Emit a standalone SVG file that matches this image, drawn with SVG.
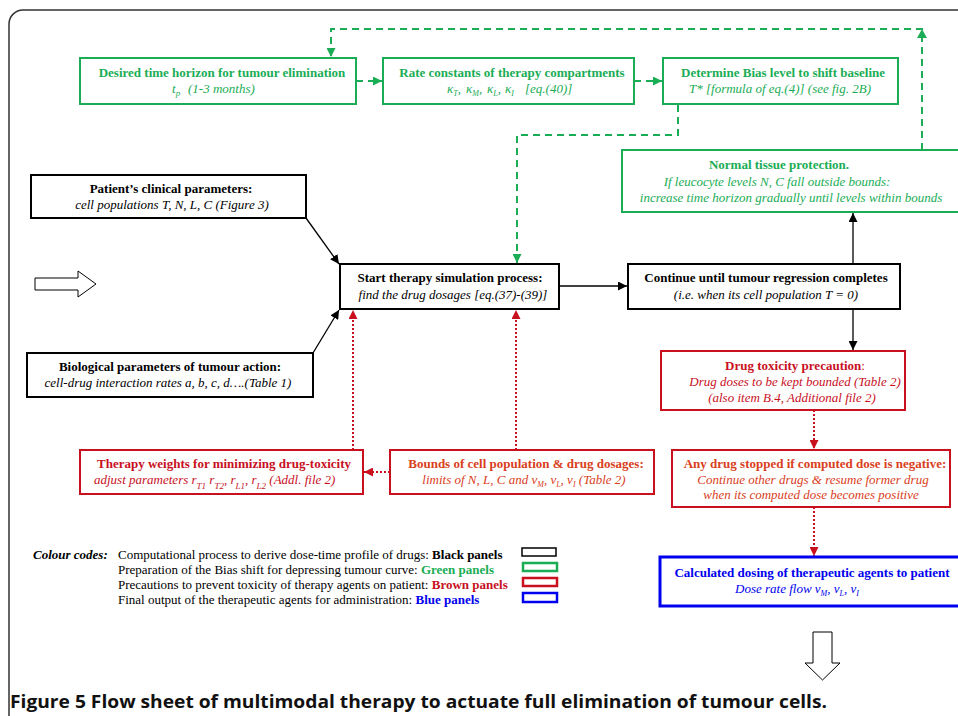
<svg xmlns="http://www.w3.org/2000/svg" width="958" height="716" viewBox="0 0 958 716">
<defs>
<style>
.bx{fill:#fff;stroke-width:2}
.k{stroke:#000}
.g{stroke:#1aad55}
.r{stroke:#c8101e}
.b{stroke:#0000ee;stroke-width:3}
.s{font-family:"Liberation Serif","Times New Roman",serif;font-size:13px}
.t{font-weight:bold;text-anchor:middle}
.i{font-style:italic;text-anchor:middle}
.gt{fill:#1aad55}
.rt{fill:#c8101e}
.ot{fill:#d9401c}
.bt{fill:#0000ee}
.lg{font-size:13px}
.cap{font-family:"Open Sans","Liberation Sans",Arial,sans-serif;font-size:18px;font-weight:bold;fill:#111}
.ln{fill:none;stroke-width:1.3}
.gd{fill:none;stroke:#1aad55;stroke-width:2;stroke-dasharray:7,5}
.rd{fill:none;stroke:#c8101e;stroke-width:2;stroke-dasharray:2,2}
</style>
<marker id="ak" viewBox="0 0 10 10" refX="10" refY="5" markerWidth="9" markerHeight="9" markerUnits="userSpaceOnUse" orient="auto"><path d="M0,0L10,5L0,10z" fill="#000"/></marker>
<marker id="ag" viewBox="0 0 10 10" refX="10" refY="5" markerWidth="9" markerHeight="9" markerUnits="userSpaceOnUse" orient="auto"><path d="M0,0L10,5L0,10z" fill="#1aad55"/></marker>
<marker id="ar" viewBox="0 0 10 10" refX="10" refY="5" markerWidth="9" markerHeight="9" markerUnits="userSpaceOnUse" orient="auto"><path d="M0,0L10,5L0,10z" fill="#c8101e"/></marker>
</defs>
<rect x="0" y="0" width="958" height="716" fill="#fff"/>
<rect x="9" y="10" width="990" height="740" rx="14" fill="none" stroke="#333" stroke-width="1.5"/>

<g id="connectors">
<path class="gd" d="M922,150V29H331V57" marker-end="url(#ag)"/>
<path d="M917,38L922,29L927,38z" fill="#1aad55"/>
<path class="gd" d="M356,81H382" marker-end="url(#ag)"/>
<path class="gd" d="M634,81H662" marker-end="url(#ag)"/>
<path class="gd" d="M678,105V135H517V263" marker-end="url(#ag)"/>
<path class="ln k" d="M306,218L339,264" marker-end="url(#ak)"/>
<path class="ln k" d="M313,353L339,310" marker-end="url(#ak)"/>
<path class="ln k" d="M559,286H627" marker-end="url(#ak)"/>
<path class="ln k" d="M853,263V213" marker-end="url(#ak)"/>
<path class="ln k" d="M853,309V350" marker-end="url(#ak)"/>
<path class="rd" d="M814,410V449" marker-end="url(#ar)"/>
<path class="rd" d="M814,507V556" marker-end="url(#ar)"/>
<path class="rd" d="M390,472H364" marker-end="url(#ar)"/>
<path class="rd" d="M353,450V310" marker-end="url(#ar)"/>
<path class="rd" d="M516,450V310" marker-end="url(#ar)"/>
</g>

<g id="n-horizon" class="s">
<rect class="bx g" x="80" y="58" width="276" height="46"/>
<text class="t gt" x="222" y="77">Desired time horizon for tumour elimination</text>
<text class="gt" x="172" y="93" font-style="italic">t<tspan font-size="9" dy="3">p</tspan><tspan x="188" dy="-3">(1-3 months)</tspan></text>
</g>

<g id="n-rates" class="s">
<rect class="bx g" x="383" y="58" width="251" height="46"/>
<text class="t gt" x="512" y="77">Rate constants of therapy compartments</text>
<text class="gt" x="447" y="93" font-style="italic">κ<tspan font-size="8" dy="3">T</tspan><tspan dy="-3">,</tspan><tspan x="466">κ</tspan><tspan font-size="8" dy="3">M</tspan><tspan dy="-3">,</tspan><tspan x="487">κ</tspan><tspan font-size="8" dy="3">L</tspan><tspan dy="-3">,</tspan><tspan x="505">κ</tspan><tspan font-size="8" dy="3">I</tspan><tspan x="525" dy="-3">[eq.(40)]</tspan></text>
</g>

<g id="n-bias" class="s">
<rect class="bx g" x="663" y="58" width="235" height="46"/>
<text class="t gt" x="783" y="77">Determine Bias level to shift baseline</text>
<text class="i gt" x="780" y="93">T* [formula of eq.(4)] (see fig. 2B)</text>
</g>

<g id="n-normal" class="s">
<rect class="bx g" x="622" y="150" width="345" height="62"/>
<text class="t gt" x="779" y="169">Normal tissue protection.</text>
<text class="i gt" x="777" y="186">If leucocyte levels N, C fall outside bounds:</text>
<text class="i gt" x="791" y="202">increase time horizon gradually until levels within bounds</text>
</g>

<g id="n-patient" class="s">
<rect class="bx k" x="31" y="175" width="275" height="43"/>
<text class="t" x="171" y="193">Patient’s clinical parameters:</text>
<text class="i" x="172" y="209">cell populations T, N, L, C (Figure 3)</text>
</g>

<g id="n-bio" class="s">
<rect class="bx k" x="27" y="353" width="286" height="44"/>
<text class="t" x="170" y="371">Biological parameters of tumour action:</text>
<text class="i" x="168" y="387">cell-drug interaction rates a, b, c, d….(Table 1)</text>
</g>

<g id="n-input-arrow">
<path d="M35,278H78V271L96,284L78,297V290H35z" fill="#fff" stroke="#000" stroke-width="1"/>
</g>

<g id="n-start" class="s">
<rect class="bx k" x="340" y="264" width="219" height="45"/>
<text class="t" x="450" y="282">Start therapy simulation process:</text>
<text class="i" x="453" y="299">find the drug dosages [eq.(37)-(39)]</text>
</g>

<g id="n-continue" class="s">
<rect class="bx k" x="628" y="264" width="272" height="45"/>
<text class="t" x="766" y="282">Continue until tumour regression completes</text>
<text class="i" x="766" y="299">(i.e. when its cell population T = 0)</text>
</g>

<g id="n-toxicity" class="s">
<rect class="bx r" x="661" y="351" width="244" height="59"/>
<text class="t rt" x="795" y="370">Drug toxicity precaution<tspan font-weight="normal">:</tspan></text>
<text class="i rt" x="795" y="386">Drug doses to be kept bounded (Table 2)</text>
<text class="i rt" x="792" y="402">(also item B.4, Additional file 2)</text>
</g>

<g id="n-stopped" class="s">
<rect class="bx r" x="672" y="450" width="278" height="57"/>
<text class="t ot" x="815" y="468">Any drug stopped if computed dose is negative:</text>
<text class="i ot" x="813" y="484">Continue other drugs &amp; resume former drug</text>
<text class="i ot" x="811" y="499">when its computed dose becomes positive</text>
</g>

<g id="n-output" class="s">
<rect class="bx b" x="660" y="557" width="305" height="49"/>
<text class="t bt" x="812" y="577">Calculated dosing of therapeutic agents to patient</text>
<text class="i bt" x="797" y="593">Dose rate flow  v<tspan font-size="8" dy="3">M</tspan><tspan dy="-3">, v</tspan><tspan font-size="8" dy="3">L</tspan><tspan dy="-3">, v</tspan><tspan font-size="8" dy="3">I</tspan></text>
</g>

<g id="n-output-arrow">
<path d="M813,632H832V663H840L822.5,680L805,663H813z" fill="#fff" stroke="#000" stroke-width="1"/>
</g>

<g id="n-weights" class="s">
<rect class="bx r" x="80" y="450" width="283" height="44"/>
<text class="t rt" x="224" y="468">Therapy weights for minimizing drug-toxicity</text>
<text class="rt" x="94" y="484" font-style="italic">adjust parameters r<tspan font-size="9" dy="5">T1</tspan><tspan dy="-5">  r</tspan><tspan font-size="9" dy="5">T2</tspan><tspan dy="-5">, r</tspan><tspan font-size="9" dy="5">L1</tspan><tspan dy="-5">, r</tspan><tspan font-size="9" dy="5">L2</tspan><tspan dy="-5"> (Addl. file 2)</tspan></text>
</g>

<g id="n-bounds" class="s">
<rect class="bx r" x="390" y="450" width="264" height="44"/>
<text class="t ot" x="526" y="468">Bounds of cell population &amp; drug dosages:</text>
<text class="i ot" x="524" y="484">limits of N, L, C and v<tspan font-size="8" dy="3">M</tspan><tspan dy="-3">, v</tspan><tspan font-size="8" dy="3">L</tspan><tspan dy="-3">, v</tspan><tspan font-size="8" dy="3">I</tspan><tspan dy="-3">  (Table 2)</tspan></text>
</g>

<g id="legend" class="s">
<text class="lg" x="33" y="559" font-weight="bold" font-style="italic" font-size="13.5">Colour codes:</text>
<text class="lg" x="118" y="559">Computational process to derive dose-time profile of drugs: <tspan font-weight="bold">Black panels</tspan></text>
<text class="lg" x="118" y="574">Preparation of the Bias shift for depressing tumour curve: <tspan font-weight="bold" fill="#1aad55">Green panels</tspan></text>
<text class="lg" x="118" y="589">Precautions to prevent toxicity of therapy agents on patient: <tspan font-weight="bold" fill="#c8101e">Brown panels</tspan></text>
<text class="lg" x="118" y="604">Final output of the therapeutic agents for administration: <tspan font-weight="bold" fill="#0000ee">Blue panels</tspan></text>
<rect x="522" y="548" width="34" height="8" fill="none" stroke="#000" stroke-width="1.5"/>
<rect x="523" y="563" width="34" height="8" fill="none" stroke="#1aad55" stroke-width="2.5"/>
<rect x="523" y="578" width="34" height="8" fill="none" stroke="#c8101e" stroke-width="2.5"/>
<rect x="523" y="593" width="34" height="9" fill="none" stroke="#0000ee" stroke-width="2.5"/>
</g>

<text class="cap" x="10" y="708" textLength="817" lengthAdjust="spacingAndGlyphs">Figure 5 Flow sheet of multimodal therapy to actuate full elimination of tumour cells.</text>
</svg>
